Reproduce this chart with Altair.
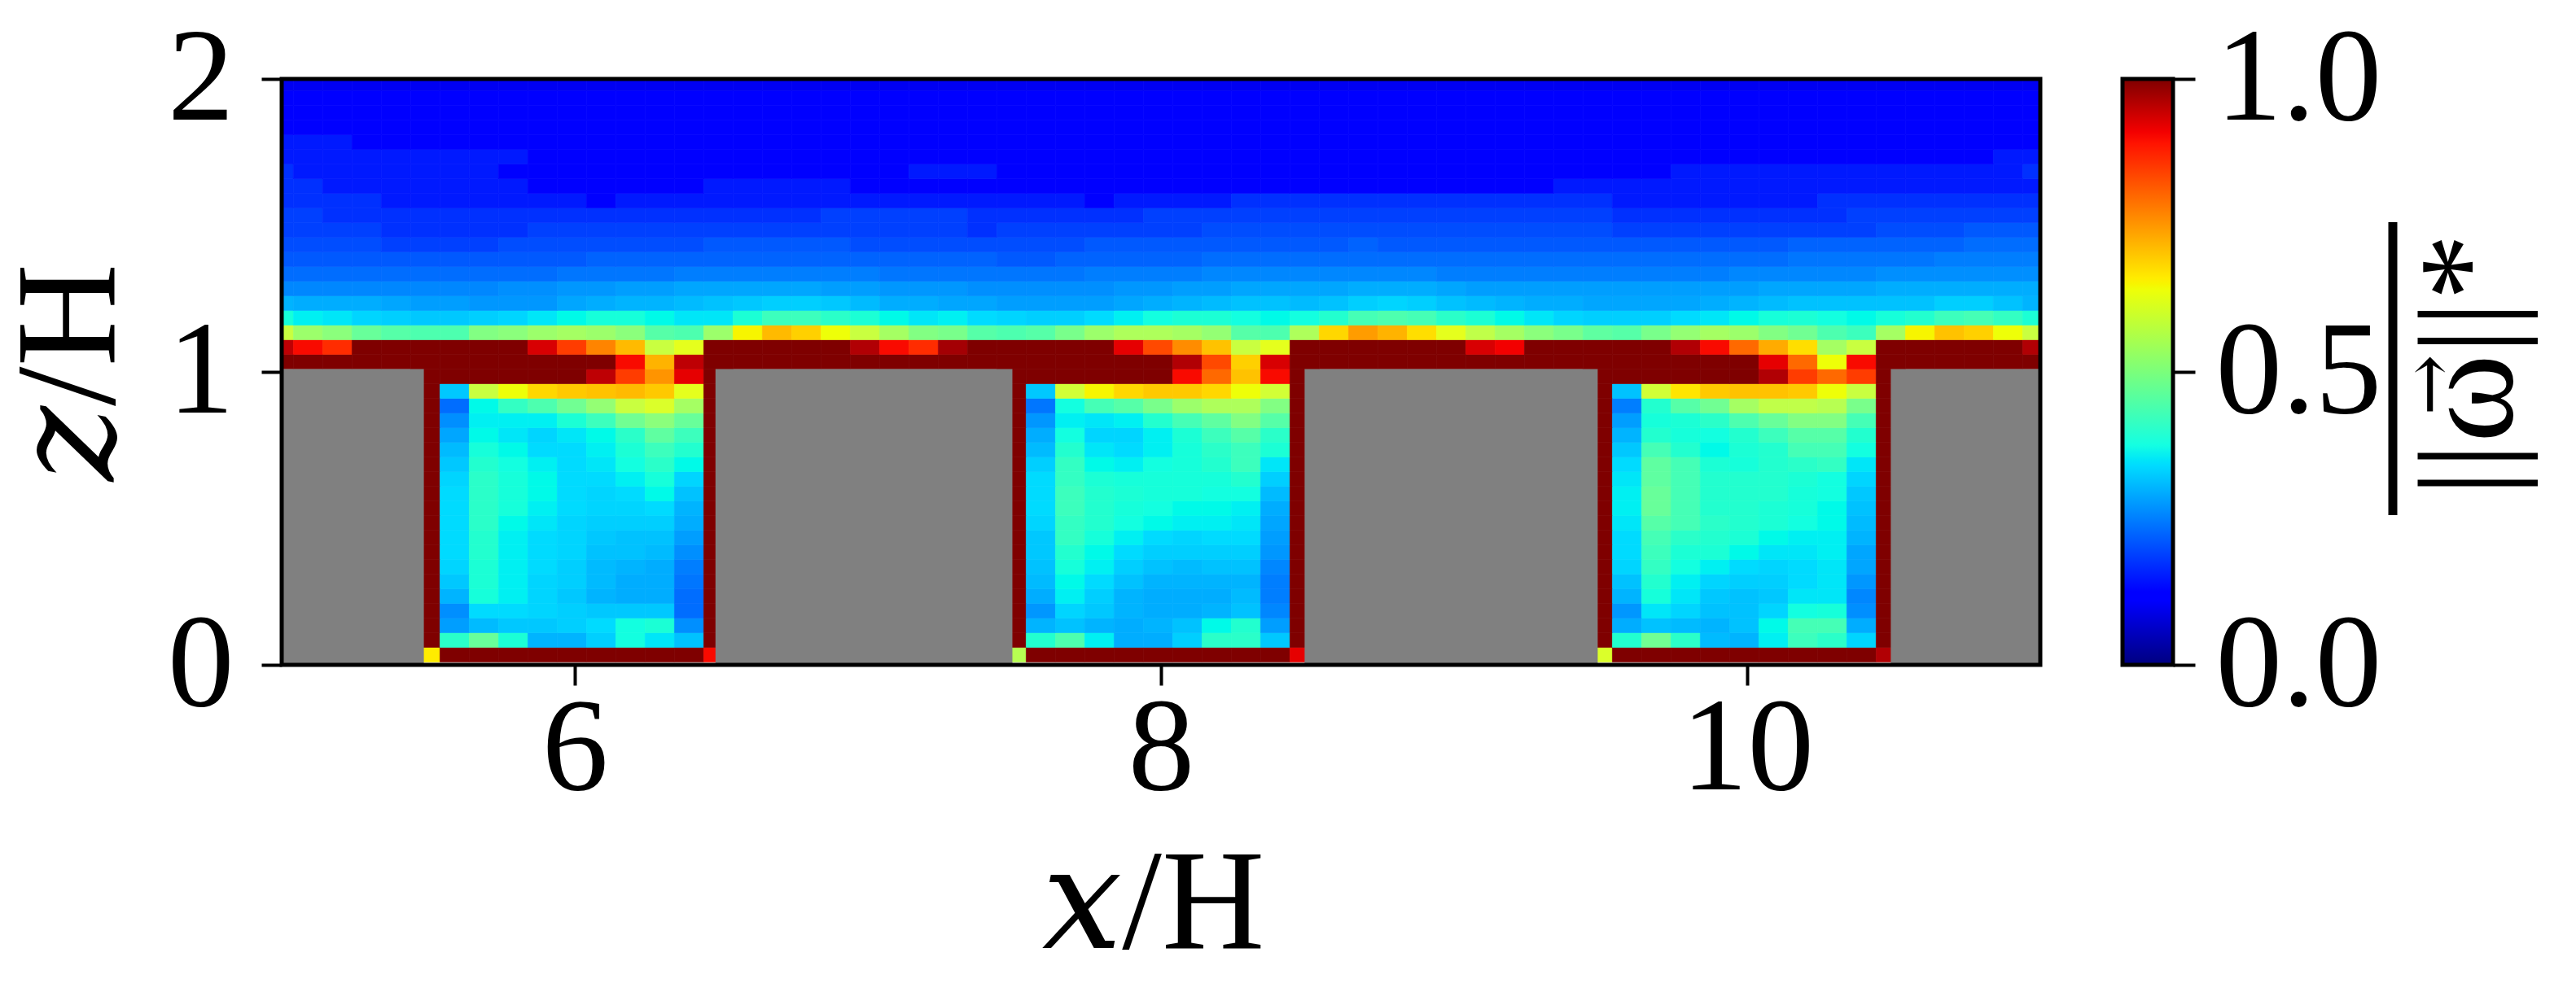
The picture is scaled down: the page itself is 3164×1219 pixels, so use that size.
#!/usr/bin/env python3
"""Vorticity magnitude over three street canyons, drawn as a cell grid with a jet colour bar."""

import pandas as pd
import altair as alt

FONT = 'Liberation Serif, DejaVu Serif'
SPINE = 5

# Colour map anchors
jet_pos = [0.0, 0.11, 0.125, 0.34, 0.35, 0.375, 0.64, 0.65, 0.66, 0.89, 0.91, 1.0]
jet_hex = ['#00007f', '#0000ff', '#0000ff', '#00dbff', '#00e6f8', '#14ffe2',
           '#eeff08', '#f7f500', '#ffec00', '#ff1300', '#f30000', '#7f0000']

x_ticks = [6, 8, 10]
z_ticks = [0, 1, 2]
bar_ticks = [0.0, 0.5, 1.0]

# Solid blocks between the canyons
block_x0 = [5.0, 6.48, 8.49, 10.49]
block_x1 = [5.485, 7.493, 9.49, 11.0]
block_top = 1.01

# Values in percent, first cell in each row is the left wall, last the right wall.
# Rows run from the canyon floor upwards.
canyon_6 = [
    [66, 100, 100, 100, 100, 100, 100, 100, 100, 100, 90],
    [100, 42, 49, 40, 28, 28, 32, 38, 35, 30, 100],
    [100, 25, 29, 31, 31, 32, 34, 38, 40, 23, 100],
    [100, 23, 34, 34, 33, 32, 31, 31, 31, 19, 100],
    [100, 28, 39, 36, 33, 31, 28, 27, 27, 19, 100],
    [100, 31, 40, 36, 33, 32, 29, 27, 27, 20, 100],
    [100, 33, 40, 36, 34, 32, 29, 28, 27, 21, 100],
    [100, 34, 41, 36, 34, 33, 30, 30, 29, 23, 100],
    [100, 34, 41, 36, 34, 33, 31, 30, 30, 25, 100],
    [100, 34, 42, 37, 35, 33, 32, 32, 32, 27, 100],
    [100, 34, 42, 39, 36, 34, 33, 33, 34, 28, 100],
    [100, 34, 42, 39, 37, 34, 33, 34, 37, 30, 100],
    [100, 33, 42, 39, 37, 34, 34, 36, 39, 33, 100],
    [100, 31, 41, 38, 36, 34, 35, 38, 42, 37, 100],
    [100, 29, 39, 37, 34, 34, 36, 40, 44, 41, 100],
    [100, 26, 37, 35, 33, 35, 37, 42, 48, 44, 100],
    [100, 23, 36, 36, 36, 40, 44, 50, 53, 49, 100],
    [100, 19, 37, 43, 46, 50, 54, 60, 62, 56, 100],
    [100, 31, 60, 64, 69, 71, 72, 73, 71, 63, 100],
    [100, 100, 100, 100, 100, 100, 95, 87, 78, 92, 100],
]
canyon_8 = [
    [58, 100, 100, 100, 100, 100, 100, 100, 100, 100, 92],
    [100, 41, 46, 36, 27, 27, 32, 42, 42, 31, 100],
    [100, 28, 30, 28, 27, 28, 30, 37, 41, 25, 100],
    [100, 24, 33, 31, 28, 27, 27, 28, 30, 22, 100],
    [100, 27, 36, 32, 28, 27, 27, 27, 29, 21, 100],
    [100, 29, 37, 34, 30, 28, 28, 28, 28, 21, 100],
    [100, 30, 39, 36, 32, 30, 29, 30, 30, 22, 100],
    [100, 31, 41, 37, 34, 32, 32, 32, 32, 24, 100],
    [100, 31, 43, 39, 36, 34, 33, 34, 34, 25, 100],
    [100, 33, 43, 41, 38, 37, 36, 36, 35, 26, 100],
    [100, 34, 44, 41, 39, 38, 37, 37, 36, 27, 100],
    [100, 34, 44, 41, 40, 39, 39, 38, 38, 29, 100],
    [100, 34, 43, 40, 39, 39, 39, 39, 41, 32, 100],
    [100, 32, 43, 37, 36, 38, 39, 41, 44, 35, 100],
    [100, 29, 41, 35, 34, 36, 39, 42, 44, 40, 100],
    [100, 27, 38, 33, 33, 36, 40, 44, 47, 42, 100],
    [100, 24, 36, 35, 36, 41, 45, 48, 52, 47, 100],
    [100, 20, 38, 45, 47, 51, 55, 57, 57, 52, 100],
    [100, 31, 61, 65, 69, 71, 71, 69, 64, 61, 100],
    [100, 100, 100, 100, 100, 100, 90, 83, 72, 90, 100],
]
canyon_10 = [
    [62, 100, 100, 100, 100, 100, 100, 100, 100, 100, 96],
    [100, 41, 50, 42, 29, 28, 36, 44, 42, 33, 100],
    [100, 27, 30, 29, 28, 30, 37, 45, 45, 27, 100],
    [100, 24, 35, 33, 30, 30, 33, 38, 39, 23, 100],
    [100, 28, 39, 35, 31, 30, 31, 35, 35, 22, 100],
    [100, 30, 41, 36, 33, 32, 32, 34, 35, 24, 100],
    [100, 33, 43, 38, 36, 34, 33, 34, 35, 26, 100],
    [100, 34, 44, 40, 40, 37, 35, 35, 36, 26, 100],
    [100, 34, 45, 42, 41, 40, 37, 36, 36, 28, 100],
    [100, 35, 47, 45, 42, 41, 40, 38, 37, 29, 100],
    [100, 36, 49, 45, 41, 41, 40, 39, 37, 30, 100],
    [100, 36, 49, 45, 41, 41, 41, 39, 38, 31, 100],
    [100, 35, 48, 45, 41, 41, 41, 40, 38, 33, 100],
    [100, 34, 48, 45, 40, 39, 41, 42, 43, 35, 100],
    [100, 31, 45, 41, 37, 40, 41, 45, 45, 38, 100],
    [100, 28, 41, 39, 38, 41, 44, 47, 47, 41, 100],
    [100, 25, 39, 40, 42, 46, 49, 52, 52, 45, 100],
    [100, 21, 41, 47, 50, 56, 59, 59, 58, 51, 100],
    [100, 30, 61, 67, 71, 72, 72, 71, 64, 60, 100],
    [100, 100, 100, 100, 100, 100, 96, 87, 83, 87, 100],
]
canyon_first_col = [5, 25, 45]

# Rows above the block tops, 61 cells each, from z = 1.01 upwards
upper_rows = [
    [100, 100, 100, 100, 100, 100, 100, 100, 100, 100, 100, 100, 90, 74, 95, 100, 100, 100, 100, 100,
     100, 100, 100, 100, 100, 100, 100, 100, 100, 100, 100, 96, 86, 70, 93, 100, 100, 100, 100, 100,
     100, 100, 100, 100, 100, 100, 100, 100, 100, 100, 100, 92, 83, 64, 90, 100, 100, 100, 100, 100, 100],
    [95, 90, 88, 100, 100, 100, 100, 100, 100, 93, 87, 80, 73, 60, 63, 100, 100, 100, 100, 100,
     96, 90, 88, 97, 100, 100, 100, 100, 100, 92, 86, 79, 72, 60, 63, 100, 100, 100, 100, 100,
     100, 93, 91, 100, 100, 100, 100, 100, 96, 90, 83, 75, 68, 56, 60, 100, 100, 100, 100, 100, 96],
    [60, 55, 53, 49, 47, 46, 46, 52, 53, 55, 56, 55, 53, 47, 46, 55, 65, 73, 70, 64,
     60, 56, 52, 51, 47, 46, 47, 51, 55, 57, 57, 56, 54, 47, 46, 57, 69, 77, 74, 68,
     63, 59, 56, 53, 51, 48, 47, 51, 54, 56, 55, 52, 50, 46, 44, 56, 65, 72, 70, 64, 60],
    [39, 36, 35, 33, 32, 31, 31, 32, 33, 35, 37, 39, 39, 37, 35, 35, 40, 44, 44, 42,
     40, 37, 35, 36, 34, 33, 32, 32, 34, 36, 38, 40, 40, 38, 37, 38, 41, 45, 46, 45,
     42, 40, 37, 35, 33, 32, 32, 32, 34, 35, 37, 39, 40, 38, 37, 39, 41, 44, 45, 43, 40],
    [28, 27, 27, 27, 26, 25, 25, 24, 24, 24, 26, 27, 28, 28, 29, 30, 31, 32, 32, 31,
     29, 27, 27, 26, 26, 25, 25, 25, 25, 26, 27, 28, 29, 30, 30, 29, 30, 32, 33, 32,
     30, 29, 28, 27, 27, 26, 26, 26, 26, 27, 28, 29, 30, 30, 30, 30, 30, 32, 32, 30, 28],
    [22, 22, 22, 22, 22, 22, 22, 22, 23, 23, 24, 24, 25, 25, 26, 26, 26, 26, 26, 25,
     25, 24, 24, 24, 23, 23, 23, 23, 23, 24, 24, 25, 25, 26, 26, 26, 26, 27, 27, 27,
     26, 25, 25, 25, 25, 25, 25, 25, 25, 25, 25, 26, 26, 26, 26, 27, 27, 27, 27, 27, 27],
    [19, 19, 19, 19, 19, 19, 19, 19, 19, 19, 20, 20, 20, 20, 21, 21, 21, 21, 21, 21,
     21, 20, 20, 20, 20, 20, 20, 20, 21, 21, 21, 21, 22, 22, 22, 22, 22, 22, 22, 22,
     21, 21, 21, 21, 21, 21, 21, 21, 21, 21, 22, 22, 22, 22, 22, 23, 23, 23, 23, 23, 23],
    [17, 17, 17, 17, 17, 17, 17, 17, 17, 17, 17, 18, 18, 18, 18, 18, 18, 18, 18, 18,
     18, 18, 18, 18, 18, 17, 17, 18, 18, 18, 18, 18, 19, 19, 19, 19, 19, 19, 19, 19,
     19, 19, 19, 19, 19, 19, 19, 19, 19, 19, 19, 19, 20, 20, 20, 20, 20, 21, 21, 21, 21],
    [16, 16, 16, 16, 15, 15, 15, 15, 16, 16, 16, 16, 16, 16, 16, 17, 17, 17, 17, 17,
     16, 16, 16, 16, 16, 16, 16, 16, 17, 17, 17, 17, 17, 17, 17, 17, 17, 18, 17, 17,
     17, 17, 17, 17, 17, 17, 17, 17, 17, 17, 17, 17, 18, 18, 18, 18, 18, 18, 19, 19, 19],
    [15, 15, 15, 15, 14, 14, 14, 14, 14, 15, 15, 15, 15, 15, 15, 15, 15, 15, 15, 15,
     15, 15, 15, 15, 14, 15, 15, 15, 15, 15, 15, 15, 16, 16, 16, 16, 16, 16, 16, 16,
     16, 16, 16, 16, 16, 16, 15, 15, 15, 15, 15, 15, 15, 15, 15, 16, 16, 16, 17, 17, 17],
    [15, 15, 14, 14, 14, 14, 14, 14, 14, 14, 14, 14, 14, 14, 14, 14, 14, 14, 14, 15,
     15, 15, 15, 15, 14, 14, 14, 14, 14, 14, 15, 15, 15, 15, 15, 15, 15, 15, 15, 15,
     15, 15, 15, 15, 15, 15, 14, 14, 14, 14, 14, 14, 14, 14, 15, 15, 15, 15, 15, 15, 15],
    [14, 14, 14, 14, 13, 13, 13, 13, 13, 13, 13, 12, 13, 13, 13, 13, 13, 13, 13, 13,
     13, 13, 13, 13, 13, 13, 13, 13, 12, 13, 13, 13, 13, 14, 14, 14, 14, 14, 14, 14,
     14, 14, 14, 14, 14, 14, 13, 13, 13, 13, 13, 13, 13, 14, 14, 14, 14, 14, 14, 14, 14],
    [14, 14, 13, 13, 13, 13, 13, 13, 13, 12, 12, 12, 12, 12, 12, 13, 13, 13, 13, 13,
     12, 12, 12, 12, 12, 12, 12, 12, 12, 12, 12, 12, 12, 12, 12, 12, 12, 12, 12, 12,
     12, 12, 12, 12, 13, 13, 13, 13, 13, 13, 13, 13, 13, 13, 13, 13, 13, 13, 13, 13, 13],
    [14, 13, 13, 13, 13, 13, 13, 13, 12, 12, 12, 12, 12, 12, 12, 12, 12, 12, 12, 12,
     12, 12, 13, 13, 13, 12, 12, 12, 12, 12, 12, 12, 12, 12, 12, 12, 12, 12, 12, 12,
     12, 12, 12, 12, 12, 12, 12, 12, 13, 13, 13, 13, 13, 13, 13, 13, 13, 13, 13, 13, 14],
    [13, 13, 13, 13, 13, 13, 13, 13, 13, 12, 12, 12, 12, 12, 12, 12, 12, 12, 12, 12,
     12, 12, 12, 12, 12, 12, 12, 12, 12, 12, 12, 12, 12, 12, 12, 12, 12, 12, 12, 12,
     12, 12, 12, 12, 12, 12, 12, 12, 12, 12, 12, 12, 12, 12, 12, 12, 12, 12, 12, 13, 13],
    [13, 13, 13, 12, 12, 12, 12, 12, 12, 12, 12, 12, 12, 12, 12, 12, 12, 12, 12, 12,
     12, 12, 12, 12, 12, 12, 12, 12, 12, 12, 12, 12, 12, 12, 12, 12, 12, 12, 12, 12,
     12, 12, 12, 12, 12, 12, 12, 12, 12, 12, 12, 12, 12, 12, 12, 12, 12, 12, 12, 12, 12],
    [12, 12, 12, 12, 12, 12, 12, 12, 12, 12, 12, 12, 12, 12, 12, 12, 12, 12, 12, 12,
     12, 12, 12, 12, 12, 12, 12, 12, 12, 12, 12, 12, 12, 12, 12, 12, 12, 12, 12, 12,
     12, 12, 12, 12, 12, 12, 12, 12, 12, 12, 12, 12, 12, 12, 12, 12, 12, 12, 12, 12, 12],
    [12, 12, 12, 12, 12, 12, 12, 12, 12, 12, 12, 12, 11, 11, 11, 11, 11, 12, 12, 12,
     12, 12, 12, 12, 12, 12, 12, 11, 11, 11, 11, 11, 11, 11, 11, 11, 11, 12, 12, 12,
     12, 12, 12, 12, 12, 12, 12, 12, 12, 12, 12, 12, 12, 12, 12, 12, 12, 12, 12, 12, 12],
    [11, 11, 11, 11, 11, 11, 11, 11, 11, 11, 11, 11, 11, 11, 11, 11, 11, 11, 11, 11,
     11, 11, 11, 11, 11, 11, 11, 11, 11, 11, 11, 11, 11, 11, 11, 11, 11, 11, 11, 11,
     11, 11, 11, 11, 11, 11, 11, 11, 11, 11, 11, 11, 11, 11, 11, 11, 11, 11, 11, 11, 11],
    [10, 10, 10, 10, 10, 10, 10, 10, 10, 10, 10, 10, 10, 10, 10, 10, 10, 10, 10, 10,
     10, 10, 10, 10, 10, 10, 10, 10, 10, 10, 10, 10, 10, 10, 10, 10, 10, 10, 10, 10,
     10, 10, 10, 10, 10, 10, 10, 10, 10, 10, 10, 10, 10, 10, 10, 10, 10, 10, 10, 10, 10],
]


def col_edges(i):
    return max(5.0, 5.04 + 0.1 * (i - 1)), min(11.0, 5.04 + 0.1 * i)


def row_edges(j):
    return max(0.0, 0.06 + 0.05 * (j - 1)), min(2.0, 0.06 + 0.05 * j)


records = []
for first, canyon in zip(canyon_first_col, [canyon_6, canyon_8, canyon_10]):
    for j, row in enumerate(canyon):
        for k, value in enumerate(row):
            records.append((first + k, j, value))
for j, row in enumerate(upper_rows):
    for i, value in enumerate(row):
        records.append((i, 20 + j, value))

cells = pd.DataFrame([
    {'x': col_edges(i)[0], 'x2': col_edges(i)[1], 'z': row_edges(j)[0], 'z2': row_edges(j)[1], 'v': value / 100}
    for i, j, value in records
])
blocks = pd.DataFrame({'x': block_x0, 'x2': block_x1, 'z': [0.0] * 4, 'z2': [block_top] * 4})
frame = pd.DataFrame({'x': [5], 'x2': [11], 'z': [0], 'z2': [2]})

jet = alt.Scale(domain=jet_pos, range=jet_hex, clamp=True)

x_axis = alt.Axis(
    values=x_ticks, format='.0f', title='𝑥/H', grid=False, domain=False,
    tickSize=25, tickWidth=4, tickColor='black',
    labelFont=FONT, labelFontSize=163, labelColor='black', labelPadding=-2, labelLimit=600,
    titleFont=FONT, titleFontSize=175, titleFontWeight='normal', titleColor='black', titlePadding=24,
    titleX=1070, labelFlush=False, labelOverlap=False,
)
z_axis = alt.Axis(
    values=z_ticks, format='.0f', title='𝑧/H', grid=False, domain=False,
    tickSize=25, tickWidth=4, tickColor='black',
    labelFont=FONT, labelFontSize=163, labelColor='black', labelPadding=34, labelLimit=600,
    titleFont=FONT, titleFontSize=175, titleFontWeight='normal', titleColor='black', titlePadding=29,
    labelFlush=False, labelOverlap=False,
)

field = alt.Chart(cells).mark_rect(clip=True, strokeWidth=0.7).encode(
    x=alt.X('x:Q', scale=alt.Scale(domain=[5, 11], nice=False, zero=False), axis=x_axis),
    x2='x2:Q',
    y=alt.Y('z:Q', scale=alt.Scale(domain=[0, 2], nice=False), axis=z_axis),
    y2='z2:Q',
    color=alt.Color('v:Q', scale=jet, legend=None),
    stroke=alt.Stroke('v:Q', scale=jet, legend=None),
)
solid = alt.Chart(blocks).mark_rect(color='#808080').encode(x='x:Q', x2='x2:Q', y='z:Q', y2='z2:Q')
border = alt.Chart(frame).mark_rect(filled=False, stroke='black', strokeWidth=SPINE).encode(
    x='x:Q', x2='x2:Q', y='z:Q', y2='z2:Q'
)
main = (field + solid + border).properties(width=2160, height=720)

# Colour bar
bar_frame = pd.DataFrame({'lo': [0.0], 'hi': [1.0]})
bar_axis = alt.Axis(
    values=bar_ticks, format='.1f', orient='right', title='||ω||*', grid=False, domain=False,
    tickSize=27, tickWidth=4, tickColor='black',
    labelFont=FONT, labelFontSize=163, labelColor='black', labelPadding=25, labelLimit=600,
    titleFont=FONT, titleFontSize=165, titleFontWeight='normal', titleColor='black',
    titleAngle=270, titleBaseline='top', titlePadding=85, titleY=351,
    labelFlush=False, labelOverlap=False,
)
bar_fill = alt.Chart(bar_frame).mark_rect(
    color=alt.Gradient(
        gradient='linear', x1=0, x2=0, y1=1, y2=0,
        stops=[alt.GradientStop(offset=p, color=c) for p, c in zip(jet_pos, jet_hex)],
    ),
    stroke='black', strokeWidth=SPINE,
).encode(
    x=alt.value(0), x2=alt.value(62),
    y=alt.Y('lo:Q', scale=alt.Scale(domain=[0, 1], nice=False), axis=bar_axis),
    y2='hi:Q',
)
overline = alt.Chart(bar_frame).mark_rule(color='black', strokeWidth=11).encode(
    x=alt.value(332), y=alt.value(176), y2=alt.value(536)
)
arrow = alt.Chart(bar_frame).mark_text(
    text='→', angle=270, font='DejaVu Serif', fontSize=90, color='black'
).encode(x=alt.value(380), y=alt.value(376))
colorbar = (bar_fill + overline + arrow).properties(width=62, height=720)

chart = alt.hconcat(main, colorbar, spacing=95).properties(
    padding={'left': -9, 'top': 8, 'right': 0, 'bottom': 0}
).configure_view(stroke=None)

chart.save("out.html", embed_options={"renderer": "svg", "actions": False})
